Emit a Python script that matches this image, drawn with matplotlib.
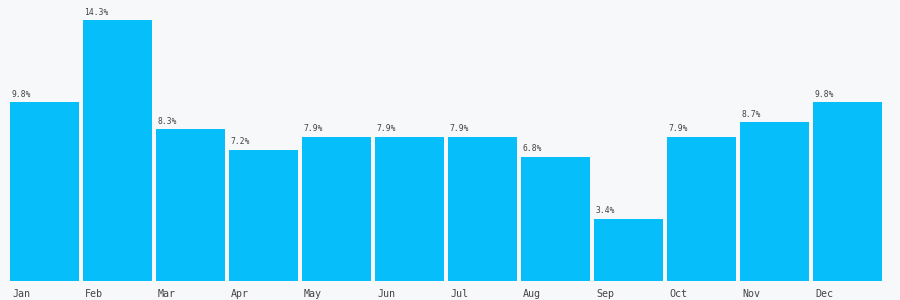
import matplotlib.pyplot as plt

months = ['Jan', 'Feb', 'Mar', 'Apr', 'May', 'Jun', 'Jul', 'Aug', 'Sep', 'Oct', 'Nov', 'Dec']
share = [9.8, 14.3, 8.3, 7.2, 7.9, 7.9, 7.9, 6.8, 3.4, 7.9, 8.7, 9.8]

bg = '#f7f8fa'
bar_color = '#05befa'
text_color = '#444444'

fig = plt.figure(figsize=(9, 3), dpi=100, facecolor=bg)
ax = fig.add_axes([10 / 900, 19 / 300, 872 / 900, 273.8 / 300])
ax.set_facecolor(bg)

width = 0.945
xs = list(range(len(months)))
ax.bar(xs, share, width=width, align='edge', color=bar_color)

# value label above each bar, left aligned
for x, v in zip(xs, share):
    ax.annotate(f'{v}%', (x, v), xytext=(1, 2.5), textcoords='offset points',
                ha='left', va='bottom', fontsize=5.8, family='DejaVu Sans Mono',
                color=text_color)

# month names under the bars
for x, m in zip(xs, months):
    ax.annotate(m, (x, 0), xytext=(1.5, -5.5), textcoords='offset points',
                ha='left', va='top', fontsize=7.2, family='DejaVu Sans Mono',
                color=text_color)

ax.set_xlim(0, len(months) - 1 + width)
ax.set_ylim(0, 15)
ax.set_xticks([])
ax.set_yticks([])
for s in ax.spines.values():
    s.set_visible(False)

fig.savefig('out.png', dpi=100, facecolor=bg)
